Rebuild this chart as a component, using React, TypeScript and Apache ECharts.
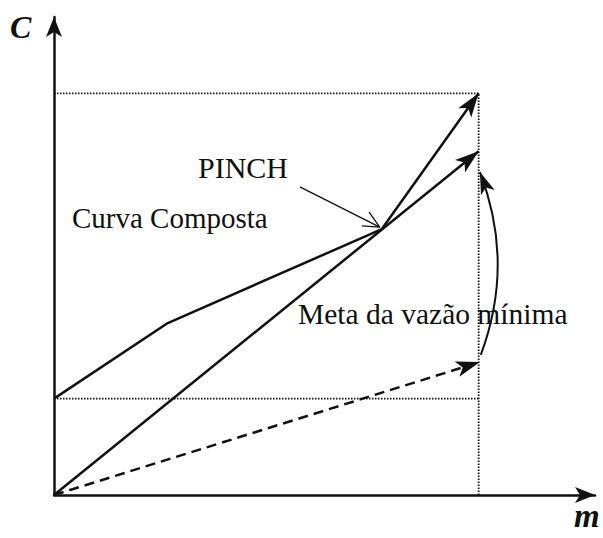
import React, { useEffect, useRef } from "react";
import * as echarts from "echarts";

// Axis extents (data units)
const X_MAX = 127.4;
const Y_MAX = 119;

// Reference levels
const topLevel = 100;
const lowerLevel = 24;
const rightEdge = 100;

// Composite curve ("Curva Composta"): points up to the pinch, then the arrowed last leg
const compositeCurve: [number, number][] = [
  [0, 24],
  [26.8, 42.8],
  [77.2, 66.2],
];
const compositeTip: [number, number] = [100, 100];

// Straight line from origin through the pinch
const straightLine: [number, number][] = [
  [0, 0],
  [100, 85.6],
];

// Dashed line (meta da vazão mínima)
const dashedLine: [number, number][] = [
  [0, 0],
  [100.3, 33.1],
];

// Curved arrow (from dashed target up to straight line)
const curvedArrow: [number, number][] = [
  [100.5, 34.9],
  [100.3, 80.4],
];

// PINCH annotation arrow
const pinchArrow: [number, number][] = [
  [57.9, 76.7],
  [76.7, 66.7],
];
const pinchHead: [number, number][] = [
  [72.5, 67.0],
  [76.7, 66.7],
  [74.2, 70.4],
];

const GRID = { left: 54, right: 8, top: 17, bottom: 43 };
const W = 603;
const H = 538;

const ARROW: [number, number] = [12, 24];

export default function App() {
  const ref = useRef<HTMLDivElement>(null);
  useEffect(() => {
    if (!ref.current) return;
    const chart = echarts.init(ref.current, null, { renderer: "svg" });
    const black = "#111";
    const font = "Liberation Serif";
    const lastComp = compositeCurve[compositeCurve.length - 1];

    const arrowLine = (coords: [number, number][], type: any, width: number, curveness = 0, size: any = ARROW) => ({
      type: "lines",
      coordinateSystem: "cartesian2d",
      polyline: false,
      symbol: ["none", "arrow"],
      symbolSize: [1, size],
      lineStyle: { color: black, width, type, curveness, opacity: 1 },
      data: [{ coords }],
      z: 3,
    });

    const dotted = { color: black, width: 1.8, type: [1.5, 1.5] };

    const txt = (text: string, x: number, y: number, size: number, bold = false) => ({
      type: "text",
      x,
      y,
      style: {
        text,
        fontFamily: font,
        fontSize: size,
        fontWeight: bold ? "bold" : "normal",
        fontStyle: bold ? "italic" : "normal",
        fill: black,
        textAlign: "left",
        verticalAlign: "middle",
      },
    });

    const axisCommon = {
      type: "value",
      min: 0,
      splitLine: { show: false },
      axisTick: { show: false },
      axisLabel: { show: false },
      axisLine: {
        show: true,
        onZero: false,
        symbol: ["none", "arrow"],
        symbolSize: [12, 20],
        lineStyle: { color: black, width: 2.5 },
      },
    };

    const option: any = {
      animation: false,
      backgroundColor: "#fff",
      grid: { ...GRID },
      xAxis: { ...axisCommon, max: X_MAX },
      yAxis: { ...axisCommon, max: Y_MAX },
      series: [
        // dotted guide lines
        { type: "line", data: [[0, topLevel], [rightEdge, topLevel]], symbol: "none", lineStyle: dotted },
        { type: "line", data: [[rightEdge, 0], [rightEdge, topLevel]], symbol: "none", lineStyle: dotted },
        { type: "line", data: [[0, lowerLevel], [rightEdge, lowerLevel]], symbol: "none", lineStyle: dotted },
        // composite curve
        {
          type: "line",
          data: compositeCurve,
          symbol: "none",
          lineStyle: { color: black, width: 2.5 },
          z: 3,
        },
        arrowLine([lastComp, compositeTip], "solid", 2.5),
        arrowLine([straightLine[0], straightLine[1]], "solid", 2.5),
        arrowLine([dashedLine[0], dashedLine[1]], [10, 6], 2.5),
        arrowLine([curvedArrow[0], curvedArrow[1]], "solid", 2, -0.19, [11, 22]),
        // pinch annotation
        { type: "line", data: pinchArrow, symbol: "none", lineStyle: { color: black, width: 1.3 }, z: 4 },
        { type: "line", data: pinchHead, symbol: "none", lineStyle: { color: black, width: 1.3 }, z: 4 },
      ],
      graphic: [
        txt("C", 10, 27, 32, true),
        txt("m", 574, 516, 33, true),
        txt("PINCH", 198, 167, 30),
        txt("Curva Composta", 72, 218, 29),
        txt("Meta da vazão mínima", 298, 314, 29.5),
      ],
    };
    chart.setOption(option);
    return () => chart.dispose();
  }, []);
  return (
    <div
      ref={ref}
      style={{ position: "fixed", left: 0, top: 0, width: W, height: H, background: "#fff" }}
    />
  );
}
